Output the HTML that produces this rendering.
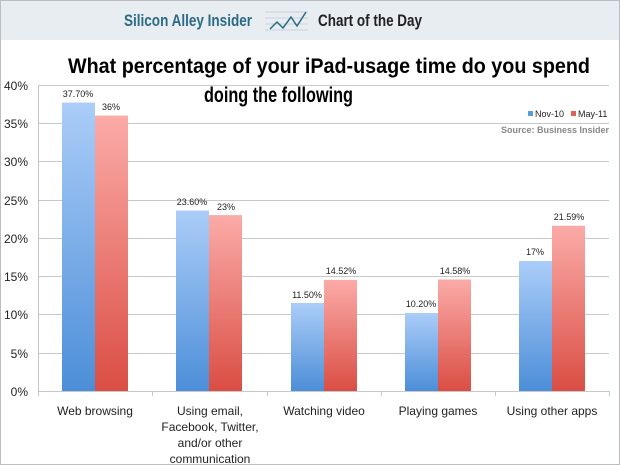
<!DOCTYPE html>
<html><head><meta charset="utf-8"><style>
body{margin:0;background:#fff}
svg{display:block;font-family:"Liberation Sans",sans-serif}
</style></head><body>
<svg width="620" height="465" viewBox="0 0 620 465" xmlns="http://www.w3.org/2000/svg">
<defs>
<linearGradient id="b" x1="0" y1="0" x2="0" y2="1"><stop offset="0" stop-color="#abcdf8"/><stop offset="1" stop-color="#4c8ed8"/></linearGradient>
<linearGradient id="r" x1="0" y1="0" x2="0" y2="1"><stop offset="0" stop-color="#fbaba8"/><stop offset="1" stop-color="#da4e44"/></linearGradient>
</defs>
<rect x="0" y="0" width="620" height="465" fill="#fff"/>
<rect x="0" y="0" width="620" height="40" fill="#e8edf2"/>
<rect x="0.5" y="0.5" width="619" height="464" fill="none" stroke="#b8bec4"/>
<text x="124" y="26" font-size="17" font-weight="bold" fill="#2c6a86" textLength="128" lengthAdjust="spacingAndGlyphs">Silicon Alley Insider</text>
<g stroke="#c7d1da" stroke-width="1"><line x1="265" y1="12" x2="308" y2="12"/><line x1="265" y1="18" x2="308" y2="18"/><line x1="265" y1="24" x2="308" y2="24"/><line x1="265" y1="30" x2="308" y2="30"/></g>
<polyline points="270,29 277,22 283,28 291,17 297,26 306,12" fill="none" stroke="#2c6a86" stroke-width="1.5"/>
<text x="318" y="26" font-size="17" font-weight="bold" fill="#222" textLength="104" lengthAdjust="spacingAndGlyphs">Chart of the Day</text>
<text x="68" y="73" font-size="21" font-weight="bold" fill="#000" textLength="522" lengthAdjust="spacingAndGlyphs">What percentage of your iPad-usage time do you spend</text>
<text x="204" y="102" font-size="21" font-weight="bold" fill="#000" textLength="149" lengthAdjust="spacingAndGlyphs">doing the following</text>
<g stroke="#c8c8c8" stroke-width="1">
<line x1="38" y1="85.5" x2="609" y2="85.5"/><line x1="38" y1="123.5" x2="609" y2="123.5"/><line x1="38" y1="161.5" x2="609" y2="161.5"/><line x1="38" y1="200.5" x2="609" y2="200.5"/><line x1="38" y1="238.5" x2="609" y2="238.5"/><line x1="38" y1="276.5" x2="609" y2="276.5"/><line x1="38" y1="314.5" x2="609" y2="314.5"/><line x1="38" y1="353.5" x2="609" y2="353.5"/><line x1="38" y1="391.5" x2="609" y2="391.5"/>
<line x1="38.5" y1="85" x2="38.5" y2="396"/>
<line x1="152.5" y1="391" x2="152.5" y2="396"/><line x1="267.5" y1="391" x2="267.5" y2="396"/><line x1="381.5" y1="391" x2="381.5" y2="396"/><line x1="495.5" y1="391" x2="495.5" y2="396"/><line x1="609.5" y1="391" x2="609.5" y2="396"/>
</g>
<g font-size="12" fill="#222" text-anchor="end">
<text x="28" y="90">40%</text><text x="28" y="128">35%</text><text x="28" y="166">30%</text><text x="28" y="205">25%</text><text x="28" y="243">20%</text><text x="28" y="281">15%</text><text x="28" y="319">10%</text><text x="28" y="358">5%</text><text x="28" y="396">0%</text>
</g>
<g>
<rect x="62" y="102.6" width="33" height="288.4" fill="url(#b)"/><rect x="95" y="115.6" width="33" height="275.4" fill="url(#r)"/>
<rect x="176" y="210.5" width="33" height="180.5" fill="url(#b)"/><rect x="209" y="215.1" width="33" height="175.9" fill="url(#r)"/>
<rect x="291" y="303" width="33" height="88" fill="url(#b)"/><rect x="324" y="279.9" width="33" height="111.1" fill="url(#r)"/>
<rect x="405" y="313" width="33" height="78" fill="url(#b)"/><rect x="438" y="279.5" width="33" height="111.5" fill="url(#r)"/>
<rect x="519" y="261" width="33" height="130" fill="url(#b)"/><rect x="552" y="225.8" width="33" height="165.2" fill="url(#r)"/>
</g>
<g font-size="9" fill="#222" text-anchor="middle">
<text x="78" y="97">37.70%</text><text x="111" y="110">36%</text>
<text x="192" y="205">23.60%</text><text x="226" y="210">23%</text>
<text x="307" y="298">11.50%</text><text x="341" y="274">14.52%</text>
<text x="421" y="307">10.20%</text><text x="455" y="274">14.58%</text>
<text x="535" y="255">17%</text><text x="569" y="220">21.59%</text>
</g>
<rect x="528" y="111" width="5" height="5" fill="#5b9be0"/><text x="535" y="117" font-size="9" fill="#222">Nov-10</text>
<rect x="571" y="111" width="5" height="5" fill="#e0605a"/><text x="578" y="117" font-size="9" fill="#222">May-11</text>
<text x="609" y="133" font-size="9" font-weight="bold" fill="#888" text-anchor="end">Source: Business Insider</text>
<g font-size="12" fill="#222" text-anchor="middle">
<text x="95" y="415">Web browsing</text>
<text x="210" y="415">Using email,</text><text x="210" y="431">Facebook, Twitter,</text><text x="210" y="447">and/or other</text><text x="210" y="463">communication</text>
<text x="324" y="415">Watching video</text>
<text x="438" y="415">Playing games</text>
<text x="552" y="415">Using other apps</text>
</g>
</svg>
</body></html>
